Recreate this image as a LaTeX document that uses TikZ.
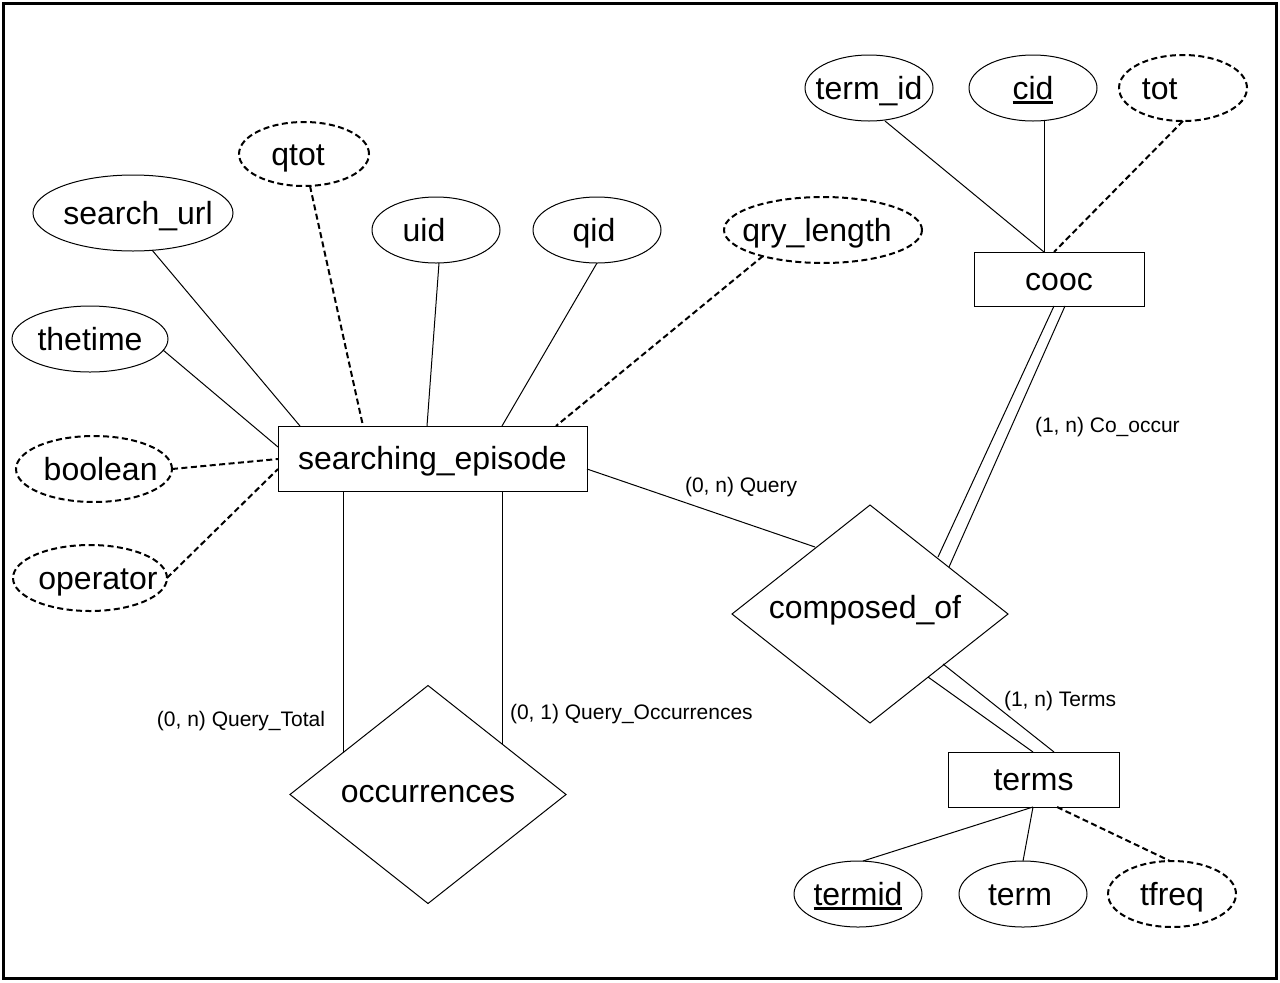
\documentclass[tikz,border=0pt]{standalone}
\usepackage{fontspec}
\setmainfont{Liberation Sans}
\usetikzlibrary{shapes.geometric,calc}
\newcommand{\ctr}[2][0pt]{\makebox[0pt]{\kern#1\relax#2}}
\newcommand{\keyul}[1]{\setbox0=\hbox{#1}\rlap{\rule[-3.4pt]{\wd0}{1.8pt}}\box0}
\begin{document}
\begin{tikzpicture}[x=0.75pt,y=-0.75pt,
  every node/.style={inner sep=0pt, outer sep=0pt},
  big/.style={font=\fontsize{24}{28}\selectfont, text height=17pt, text depth=0pt},
  attr/.style={big, ellipse, draw, line width=0.75pt},
  dattr/.style={big, ellipse, draw, line width=1.5pt, dash pattern=on 4.5pt off 2.6pt},
  ent/.style={big, rectangle, draw, line width=0.75pt},
  rel/.style={big, diamond, draw, line width=0.75pt, minimum width=207pt, minimum height=163.5pt},
  lnk/.style={line width=0.75pt},
  dlnk/.style={line width=1.5pt, dash pattern=on 4.5pt off 2.6pt},
  card/.style={font=\fontsize{15.75}{18}\selectfont}
]
\useasboundingbox (0,0) rectangle (1280,982);
\draw[line width=2.25pt] (3,3) rectangle (1276,978);

% entities
\node[ent, minimum width=231.75pt, minimum height=48.75pt] (se) at (432.5,458.5) {\ctr{searching\_episode}};
\node[ent, minimum width=127.5pt, minimum height=40.5pt] (cooc) at (1059,279) {\ctr{cooc}};
\node[ent, minimum width=128.25pt, minimum height=41.25pt] (terms) at (1033.5,779.5) {\ctr{terms}};

% relationships
\node[rel, text height=6pt] (comp) at (870,614) {\ctr[-7.5pt]{composed\_of}};
\node[rel, text height=11.25pt] (occ) at (428,794.5) {\ctr{occurrences}};

% attributes
\node[attr, minimum width=96pt, minimum height=49.5pt] (termidc) at (869,88) {\ctr{term\_id}};
\node[attr, minimum width=96pt, minimum height=49.5pt] (cid) at (1033,88) {\ctr{\keyul{cid}}};
\node[dattr, minimum width=96pt, minimum height=49.5pt] (tot) at (1183,88) {\ctr[-35pt]{tot}};
\node[dattr, minimum width=97.5pt, minimum height=48pt] (qtot) at (304,154) {\ctr[-9pt]{qtot}};
\node[attr, minimum width=150pt, minimum height=57pt] (surl) at (133,213) {\ctr[7.5pt]{search\_url}};
\node[attr, minimum width=96pt, minimum height=49.5pt] (uid) at (436,230) {\ctr[-18pt]{uid}};
\node[attr, minimum width=96pt, minimum height=49.5pt] (qid) at (597,230) {\ctr[-4.5pt]{qid}};
\node[dattr, minimum width=148.5pt, minimum height=49.5pt] (qlen) at (823,230) {\ctr[-9pt]{qry\_length}};
\node[attr, minimum width=117pt, minimum height=49.5pt] (thetime) at (90,339) {\ctr{thetime}};
\node[dattr, minimum width=117pt, minimum height=49.5pt] (boolean) at (94,469) {\ctr[10pt]{boolean}};
\node[dattr, minimum width=115.5pt, minimum height=49.5pt] (operator) at (90,578) {\ctr[12pt]{operator}};
\node[attr, minimum width=96pt, minimum height=49.5pt] (termid) at (858,894) {\ctr{\keyul{termid}}};
\node[attr, minimum width=96pt, minimum height=49.5pt] (term) at (1023,894) {\ctr[-4.5pt]{term}};
\node[dattr, minimum width=96pt, minimum height=49.5pt] (tfreq) at (1172,894) {\ctr{tfreq}};

% cardinality labels
\node[card, anchor=base west] (lquery) at (685,492) {(0, n) Query};
\node[card, anchor=base west] (lcooc) at (1035,432) {(1, n) Co\_occur};
\node[card, anchor=base west] (lterms) at (1004,706) {(1, n) Terms};
\node[card, anchor=base west] (lqocc) at (510,719) {(0, 1) Query\_Occurrences};
\node[card, anchor=base east] (lqtot) at (325,726) {(0, n) Query\_Total};

% connectors: searching_episode attributes
\draw[lnk] ($(surl)+(19,37)$) -- ($(se.north west)+(22,0)$);
\draw[dlnk] ($(qtot)+(6,32)$) -- ($(se.north west)+(85,0)$);
\draw[lnk] ($(uid)+(3,33)$) -- ($(se.north west)+(149,0)$);
\draw[lnk] (qid.south) -- ($(se.north west)+(224,0)$);
\draw[dlnk] ($(qlen)+(-60,26)$) -- ($(se.north west)+(278,0)$);
\draw[lnk] ($(thetime)+(73,11)$) -- ($(se.north west)+(0,21)$);
\draw[dlnk] (boolean.east) -- ($(se.north west)+(0,33)$);
\draw[dlnk] (operator.east) -- ($(se.north west)+(0,43)$);

% relationships
\draw[lnk] ($(se.north east)+(0,43)$) -- ($(comp)+(-55,-67)$);
\draw[lnk] ($(se.south west)+(65,0)$) -- ($(occ)+(-85,-42)$);
\draw[lnk] ($(se.south west)+(224,0)$) -- ($(occ)+(74,-51)$);
\draw[lnk] ($(cooc.south)+(-5,0)$) -- ($(comp)+(68,-57)$);
\draw[lnk] ($(cooc.south)+(6,0)$) -- ($(comp)+(79,-47)$);
\draw[lnk] ($(comp)+(73,50)$) -- ($(terms.north west)+(106,0)$);
\draw[lnk] ($(comp)+(58,63)$) -- ($(terms.north west)+(85,0)$);

% cooc attributes
\draw[lnk] ($(termidc)+(16,33)$) -- ($(cooc.north west)+(70,0)$);
\draw[lnk] ($(cid)+(11,32.5)$) -- ($(cooc.north west)+(70,0)$);
\draw[dlnk] (tot.south) -- ($(cooc.north west)+(80,0)$);

% terms attributes
\draw[lnk] ($(terms.south west)+(85,0)$) -- ($(termid)+(5,-33)$);
\draw[lnk] ($(terms.south west)+(85,0)$) -- (term.north);
\draw[dlnk] ($(terms.south west)+(109,0)$) -- ($(tfreq)+(-2,-33)$);
\end{tikzpicture}
\end{document}
